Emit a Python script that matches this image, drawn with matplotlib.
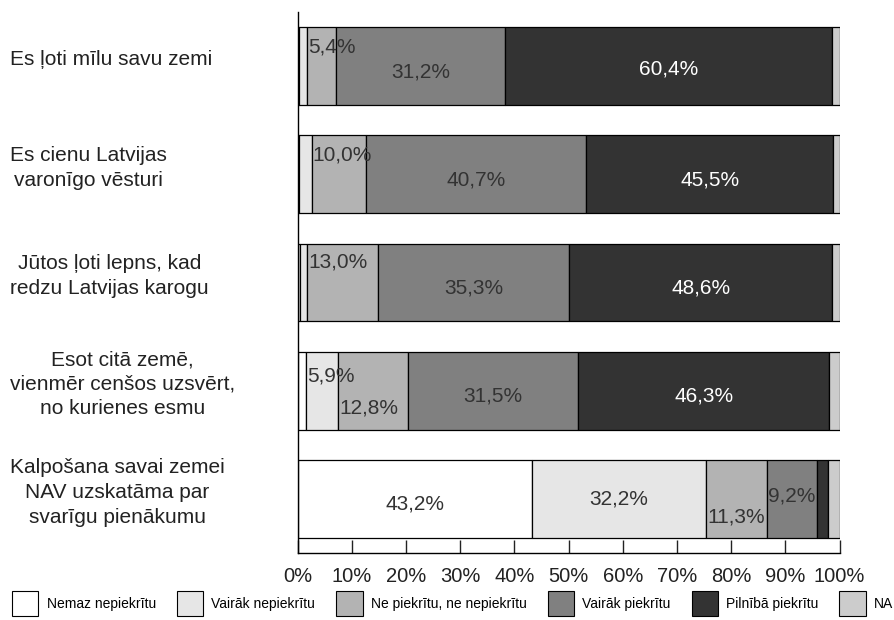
import matplotlib
matplotlib.use("Agg")
import matplotlib.pyplot as plt
import matplotlib.transforms as mtransforms
from matplotlib.patches import Patch
import numpy as np

plt.rcParams['font.family'] = ['Liberation Sans', 'DejaVu Sans']

# statements (top to bottom)
statements = [
    "Es ļoti mīlu savu zemi",
    "Es cienu Latvijas\nvaronīgo vēsturi",
    "Jūtos ļoti lepns, kad\nredzu Latvijas karogu",
    "Esot citā zemē,\nvienmēr cenšos uzsvērt,\nno kurienes esmu",
    "Kalpošana savai zemei\nNAV uzskatāma par\nsvarīgu pienākumu",
]

answers = ["Nemaz nepiekrītu", "Vairāk nepiekrītu", "Ne piekrītu, ne nepiekrītu",
           "Vairāk piekrītu", "Pilnībā piekrītu", "NA"]

# shares in % per statement, one list per answer
nemaz = [0.3, 0.3, 0.4, 1.6, 43.2]
vairak_nep = [1.4, 2.3, 1.4, 5.9, 32.2]
ne_ne = [5.4, 10.0, 13.0, 12.8, 11.3]
vairak_piek = [31.2, 40.7, 35.3, 31.5, 9.2]
pilniba = [60.4, 45.5, 48.6, 46.3, 2.0]
na = [1.3, 1.2, 1.3, 1.9, 2.1]

series = [nemaz, vairak_nep, ne_ne, vairak_piek, pilniba, na]
colors = ["#ffffff", "#e6e6e6", "#b3b3b3", "#808080", "#333333", "#cccccc"]
text_colors = ["#333333", "#333333", "#333333", "#333333", "#ffffff", "#333333"]

# vertical nudges for the value labels (row, series) -> offset in bar units
nudge = {(0, 2): -0.18, (1, 2): -0.18, (2, 2): -0.19, (3, 1): -0.14, (3, 2): 0.16,
         (4, 2): 0.17, (4, 3): -0.03, (4, 1): 0.0, (0, 4): 0.03}

fig = plt.figure(figsize=(8.94, 6.2), dpi=100)
ax = fig.add_axes([297.5 / 894, 67 / 620, 542 / 894, 541 / 620])

y = np.arange(len(statements))
left = np.zeros(len(statements))
for i, vals in enumerate(series):
    vals = np.array(vals) / 100.0
    ax.barh(y, vals, left=left, height=0.72, color=colors[i],
            edgecolor="black", linewidth=0.9)
    for r in range(len(statements)):
        v = series[i][r]
        if v >= 5:
            dy = nudge.get((r, i), 0.05)
            lab = f"{v:.1f}%".replace(".", ",")
            if v >= 15:
                ax.text(left[r] + vals[r] / 2, y[r] + dy, lab, ha="center", va="center",
                        fontsize=15, color=text_colors[i])
            else:
                ax.text(left[r] + 0.002, y[r] + dy, lab, ha="left", va="center",
                        fontsize=15, color=text_colors[i])
    left += vals

ax.set_xlim(0, 1)
ax.set_ylim(len(statements) - 0.5, -0.5)
ax.set_xticks(np.linspace(0, 1, 11))
ax.set_xticklabels([f"{int(t)}%" for t in np.linspace(0, 100, 11)], fontsize=14.5)
ax.set_yticks([])
ax.tick_params(axis="x", direction="in", length=9.5, width=1, pad=10, colors="#222222")
for s in ["top", "right"]:
    ax.spines[s].set_visible(False)
ax.spines["left"].set_linewidth(1)
ax.spines["bottom"].set_linewidth(1)

trans = mtransforms.blended_transform_factory(fig.transFigure, ax.transData)
for r, txt in enumerate(statements):
    ax.text(10 / 894, r - 0.06, txt, transform=trans, ha="left", va="center",
            multialignment="center", fontsize=15, linespacing=1.38, color="#222222")

handles = [Patch(facecolor=c, edgecolor="black", linewidth=0.8) for c in colors]
fig.legend(handles, answers, loc="center left", bbox_to_anchor=(0.004, 0.026),
           ncol=6, frameon=False, fontsize=10, handlelength=1.9, handleheight=2.4,
           handletextpad=0.6, columnspacing=1.5, borderaxespad=0.2)

fig.savefig("out.png", dpi=100)
